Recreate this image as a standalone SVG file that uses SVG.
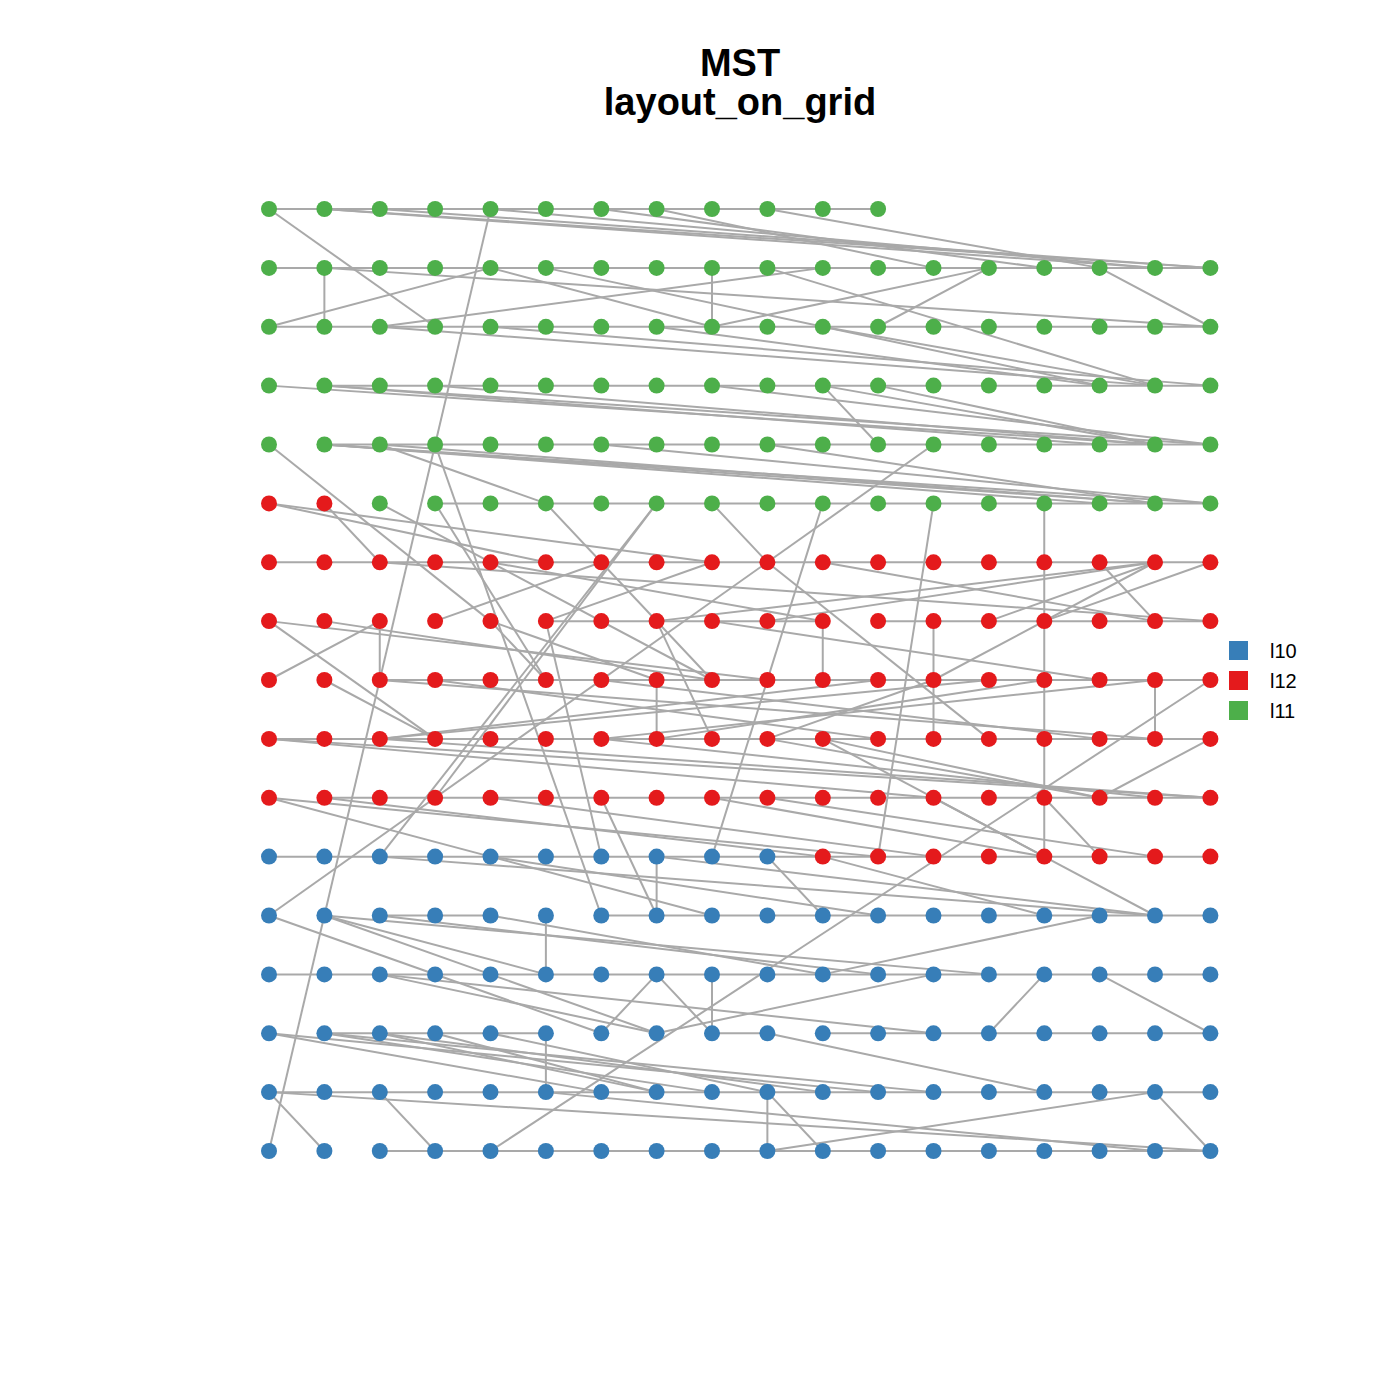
<svg xmlns="http://www.w3.org/2000/svg" width="1400" height="1400" viewBox="0 0 1400 1400">
<style>
.g{fill:#4daf4a}.r{fill:#e41a1c}.b{fill:#377eb8}
#edges line{stroke:#a9a9a9;stroke-width:2;fill:none;vector-effect:non-scaling-stroke}
.t{font-family:"Liberation Sans",Arial,sans-serif;font-weight:bold;font-size:38px;text-anchor:middle;fill:#000}
.lg{font-family:"Liberation Sans",Arial,sans-serif;font-size:20px;fill:#000}
</style>
<rect width="1400" height="1400" fill="#fff"/>
<text class="t" x="740" y="76">MST</text>
<text class="t" x="740" y="115">layout_on_grid</text>
<g id="edges" transform="translate(269,209) scale(55.375,58.875)">
<line x1="0" y1="0" x2="11" y2="0"/><line x1="0" y1="1" x2="17" y2="1"/><line x1="0" y1="2" x2="17" y2="2"/><line x1="1" y1="3" x2="17" y2="3"/><line x1="1" y1="4" x2="17" y2="4"/><line x1="3" y1="5" x2="17" y2="5"/><line x1="0" y1="6" x2="17" y2="6"/><line x1="5" y1="7" x2="10" y2="7"/><line x1="11" y1="7" x2="17" y2="7"/><line x1="2" y1="8" x2="17" y2="8"/><line x1="0" y1="9" x2="17" y2="9"/><line x1="1" y1="10" x2="17" y2="10"/><line x1="0" y1="11" x2="17" y2="11"/><line x1="2" y1="12" x2="4" y2="12"/><line x1="6" y1="12" x2="17" y2="12"/><line x1="0" y1="13" x2="17" y2="13"/><line x1="1" y1="14" x2="5" y2="14"/><line x1="8" y1="14" x2="9" y2="14"/><line x1="10" y1="14" x2="17" y2="14"/><line x1="0" y1="15" x2="17" y2="15"/><line x1="2" y1="16" x2="17" y2="16"/>
<line x1="1" y1="1" x2="1" y2="2"/><line x1="8" y1="1" x2="8" y2="2"/><line x1="2" y1="7" x2="2" y2="8"/><line x1="7" y1="8" x2="7" y2="9"/><line x1="10" y1="7" x2="10" y2="8"/><line x1="12" y1="7" x2="12" y2="9"/><line x1="14" y1="5" x2="14" y2="11"/><line x1="16" y1="8" x2="16" y2="9"/><line x1="7" y1="11" x2="7" y2="12"/><line x1="5" y1="12" x2="5" y2="13"/><line x1="5" y1="14" x2="5" y2="15"/><line x1="8" y1="13" x2="8" y2="14"/><line x1="9" y1="15" x2="9" y2="16"/>
<line x1="0" y1="0" x2="3" y2="2"/><line x1="4" y1="0" x2="0" y2="16"/><line x1="1" y1="0" x2="17" y2="1"/><line x1="1" y1="0" x2="16" y2="1"/><line x1="2" y1="0" x2="17" y2="1"/><line x1="4" y1="0" x2="16" y2="1"/><line x1="6" y1="0" x2="14" y2="1"/><line x1="7" y1="0" x2="12" y2="1"/><line x1="9" y1="0" x2="15" y2="1"/>
<line x1="0" y1="2" x2="4" y2="1"/><line x1="1" y1="1" x2="17" y2="2"/><line x1="4" y1="1" x2="8" y2="2"/><line x1="5" y1="1" x2="15" y2="3"/><line x1="9" y1="1" x2="16" y2="3"/><line x1="2" y1="2" x2="10" y2="1"/><line x1="8" y1="2" x2="13" y2="1"/><line x1="11" y1="2" x2="13" y2="1"/><line x1="15" y1="1" x2="17" y2="2"/>
<line x1="2" y1="2" x2="16" y2="3"/><line x1="4" y1="2" x2="17" y2="3"/><line x1="7" y1="2" x2="15" y2="3"/><line x1="10" y1="2" x2="16" y2="3"/>
<line x1="0" y1="3" x2="16" y2="4"/><line x1="1" y1="3" x2="17" y2="4"/><line x1="1" y1="3" x2="15" y2="4"/><line x1="3" y1="3" x2="16" y2="4"/><line x1="8" y1="3" x2="17" y2="4"/><line x1="10" y1="3" x2="11" y2="4"/><line x1="10" y1="3" x2="16" y2="4"/><line x1="11" y1="3" x2="16" y2="4"/>
<line x1="1" y1="4" x2="16" y2="5"/><line x1="1" y1="4" x2="17" y2="5"/><line x1="1" y1="4" x2="15" y2="5"/><line x1="2" y1="4" x2="5" y2="5"/><line x1="2" y1="4" x2="16" y2="5"/><line x1="6" y1="4" x2="17" y2="5"/><line x1="9" y1="4" x2="16" y2="5"/>
<line x1="12" y1="4" x2="9" y2="6"/><line x1="12" y1="5" x2="11" y2="11"/><line x1="10" y1="5" x2="8" y2="11"/><line x1="8" y1="5" x2="9" y2="6"/><line x1="9" y1="6" x2="13" y2="9"/><line x1="7" y1="5" x2="2" y2="11"/><line x1="7" y1="5" x2="3" y2="10"/><line x1="3" y1="4" x2="6" y2="12"/><line x1="3" y1="5" x2="5" y2="8"/><line x1="0" y1="4" x2="4" y2="7"/><line x1="4" y1="7" x2="5" y2="8"/><line x1="0" y1="12" x2="9" y2="6"/><line x1="5" y1="7" x2="6" y2="11"/><line x1="3" y1="7" x2="6" y2="6"/><line x1="0" y1="8" x2="2" y2="7"/><line x1="1" y1="8" x2="3" y2="9"/><line x1="0" y1="7" x2="3" y2="9"/><line x1="1" y1="5" x2="2" y2="6"/><line x1="2" y1="5" x2="8" y2="8"/><line x1="5" y1="5" x2="8" y2="8"/><line x1="0" y1="5" x2="5" y2="6"/><line x1="0" y1="5" x2="8" y2="6"/><line x1="0" y1="7" x2="9" y2="8"/><line x1="1" y1="7" x2="8" y2="8"/><line x1="5" y1="7" x2="8" y2="6"/><line x1="7" y1="7" x2="8" y2="9"/><line x1="8" y1="7" x2="15" y2="8"/><line x1="7" y1="7" x2="16" y2="6"/><line x1="9" y1="7" x2="16" y2="6"/><line x1="13" y1="7" x2="16" y2="6"/><line x1="15" y1="6" x2="16" y2="7"/><line x1="14" y1="7" x2="17" y2="6"/><line x1="12" y1="8" x2="16" y2="6"/><line x1="10" y1="6" x2="16" y2="7"/>
<line x1="9" y1="9" x2="12" y2="8"/><line x1="7" y1="9" x2="14" y2="8"/><line x1="6" y1="9" x2="16" y2="8"/><line x1="6" y1="8" x2="15" y2="9"/><line x1="2" y1="9" x2="11" y2="8"/><line x1="2" y1="9" x2="13" y2="8"/><line x1="2" y1="9" x2="17" y2="10"/><line x1="0" y1="9" x2="12" y2="10"/><line x1="0" y1="9" x2="17" y2="10"/><line x1="3" y1="8" x2="11" y2="9"/><line x1="2" y1="8" x2="16" y2="9"/><line x1="4" y1="6" x2="10" y2="7"/><line x1="4" y1="7" x2="7" y2="8"/><line x1="2" y1="6" x2="17" y2="7"/>
<line x1="0" y1="10" x2="4" y2="11"/><line x1="0" y1="10" x2="11" y2="11"/><line x1="1" y1="10" x2="10" y2="11"/><line x1="10" y1="9" x2="15" y2="10"/><line x1="9" y1="9" x2="15" y2="10"/><line x1="6" y1="9" x2="16" y2="10"/><line x1="10" y1="9" x2="14" y2="11"/><line x1="4" y1="10" x2="12" y2="11"/><line x1="9" y1="10" x2="16" y2="11"/><line x1="8" y1="10" x2="14" y2="11"/><line x1="6" y1="10" x2="7" y2="12"/>
<line x1="2" y1="11" x2="16" y2="12"/><line x1="4" y1="11" x2="8" y2="12"/><line x1="4" y1="11" x2="11" y2="12"/><line x1="7" y1="11" x2="16" y2="12"/><line x1="9" y1="11" x2="10" y2="12"/><line x1="10" y1="11" x2="14" y2="12"/><line x1="12" y1="10" x2="14" y2="11"/><line x1="14" y1="10" x2="15" y2="11"/><line x1="14" y1="11" x2="16" y2="12"/><line x1="15" y1="10" x2="17" y2="9"/><line x1="4" y1="16" x2="17" y2="8"/>
<line x1="0" y1="12" x2="6" y2="14"/><line x1="1" y1="12" x2="4" y2="13"/><line x1="1" y1="12" x2="5" y2="13"/><line x1="1" y1="12" x2="13" y2="13"/><line x1="2" y1="12" x2="11" y2="13"/><line x1="4" y1="12" x2="10" y2="13"/><line x1="6" y1="14" x2="7" y2="13"/><line x1="7" y1="13" x2="8" y2="14"/><line x1="10" y1="13" x2="15" y2="12"/><line x1="7" y1="14" x2="12" y2="13"/><line x1="2" y1="13" x2="12" y2="14"/><line x1="2" y1="13" x2="7" y2="14"/><line x1="4" y1="13" x2="7" y2="14"/>
<line x1="9" y1="14" x2="14" y2="15"/><line x1="0" y1="14" x2="6" y2="15"/><line x1="0" y1="14" x2="11" y2="15"/><line x1="1" y1="14" x2="8" y2="15"/><line x1="1" y1="14" x2="12" y2="15"/><line x1="2" y1="14" x2="10" y2="15"/><line x1="2" y1="14" x2="7" y2="15"/><line x1="3" y1="14" x2="7" y2="15"/><line x1="4" y1="14" x2="9" y2="15"/>
<line x1="9" y1="15" x2="10" y2="16"/><line x1="9" y1="16" x2="16" y2="15"/><line x1="13" y1="14" x2="14" y2="13"/><line x1="15" y1="13" x2="17" y2="14"/><line x1="16" y1="15" x2="17" y2="16"/><line x1="0" y1="15" x2="1" y2="16"/><line x1="0" y1="15" x2="17" y2="16"/><line x1="5" y1="15" x2="16" y2="16"/><line x1="2" y1="15" x2="3" y2="16"/>
</g>
<g id="nodes">
<g id="n0_0"><circle class="g" cx="269" cy="209" r="8"/></g><g id="n0_1"><circle class="g" cx="324.4" cy="209" r="8"/></g><g id="n0_2"><circle class="g" cx="379.8" cy="209" r="8"/></g><g id="n0_3"><circle class="g" cx="435.1" cy="209" r="8"/></g><g id="n0_4"><circle class="g" cx="490.5" cy="209" r="8"/></g><g id="n0_5"><circle class="g" cx="545.9" cy="209" r="8"/></g><g id="n0_6"><circle class="g" cx="601.3" cy="209" r="8"/></g><g id="n0_7"><circle class="g" cx="656.6" cy="209" r="8"/></g><g id="n0_8"><circle class="g" cx="712" cy="209" r="8"/></g><g id="n0_9"><circle class="g" cx="767.4" cy="209" r="8"/></g><g id="n0_10"><circle class="g" cx="822.8" cy="209" r="8"/></g><g id="n0_11"><circle class="g" cx="878.1" cy="209" r="8"/></g>
<g id="n1_0"><circle class="g" cx="269" cy="267.9" r="8"/></g><g id="n1_1"><circle class="g" cx="324.4" cy="267.9" r="8"/></g><g id="n1_2"><circle class="g" cx="379.8" cy="267.9" r="8"/></g><g id="n1_3"><circle class="g" cx="435.1" cy="267.9" r="8"/></g><g id="n1_4"><circle class="g" cx="490.5" cy="267.9" r="8"/></g><g id="n1_5"><circle class="g" cx="545.9" cy="267.9" r="8"/></g><g id="n1_6"><circle class="g" cx="601.3" cy="267.9" r="8"/></g><g id="n1_7"><circle class="g" cx="656.6" cy="267.9" r="8"/></g><g id="n1_8"><circle class="g" cx="712" cy="267.9" r="8"/></g><g id="n1_9"><circle class="g" cx="767.4" cy="267.9" r="8"/></g><g id="n1_10"><circle class="g" cx="822.8" cy="267.9" r="8"/></g><g id="n1_11"><circle class="g" cx="878.1" cy="267.9" r="8"/></g><g id="n1_12"><circle class="g" cx="933.5" cy="267.9" r="8"/></g><g id="n1_13"><circle class="g" cx="988.9" cy="267.9" r="8"/></g><g id="n1_14"><circle class="g" cx="1044.3" cy="267.9" r="8"/></g><g id="n1_15"><circle class="g" cx="1099.6" cy="267.9" r="8"/></g><g id="n1_16"><circle class="g" cx="1155" cy="267.9" r="8"/></g><g id="n1_17"><circle class="g" cx="1210.4" cy="267.9" r="8"/></g>
<g id="n2_0"><circle class="g" cx="269" cy="326.8" r="8"/></g><g id="n2_1"><circle class="g" cx="324.4" cy="326.8" r="8"/></g><g id="n2_2"><circle class="g" cx="379.8" cy="326.8" r="8"/></g><g id="n2_3"><circle class="g" cx="435.1" cy="326.8" r="8"/></g><g id="n2_4"><circle class="g" cx="490.5" cy="326.8" r="8"/></g><g id="n2_5"><circle class="g" cx="545.9" cy="326.8" r="8"/></g><g id="n2_6"><circle class="g" cx="601.3" cy="326.8" r="8"/></g><g id="n2_7"><circle class="g" cx="656.6" cy="326.8" r="8"/></g><g id="n2_8"><circle class="g" cx="712" cy="326.8" r="8"/></g><g id="n2_9"><circle class="g" cx="767.4" cy="326.8" r="8"/></g><g id="n2_10"><circle class="g" cx="822.8" cy="326.8" r="8"/></g><g id="n2_11"><circle class="g" cx="878.1" cy="326.8" r="8"/></g><g id="n2_12"><circle class="g" cx="933.5" cy="326.8" r="8"/></g><g id="n2_13"><circle class="g" cx="988.9" cy="326.8" r="8"/></g><g id="n2_14"><circle class="g" cx="1044.3" cy="326.8" r="8"/></g><g id="n2_15"><circle class="g" cx="1099.6" cy="326.8" r="8"/></g><g id="n2_16"><circle class="g" cx="1155" cy="326.8" r="8"/></g><g id="n2_17"><circle class="g" cx="1210.4" cy="326.8" r="8"/></g>
<g id="n3_0"><circle class="g" cx="269" cy="385.6" r="8"/></g><g id="n3_1"><circle class="g" cx="324.4" cy="385.6" r="8"/></g><g id="n3_2"><circle class="g" cx="379.8" cy="385.6" r="8"/></g><g id="n3_3"><circle class="g" cx="435.1" cy="385.6" r="8"/></g><g id="n3_4"><circle class="g" cx="490.5" cy="385.6" r="8"/></g><g id="n3_5"><circle class="g" cx="545.9" cy="385.6" r="8"/></g><g id="n3_6"><circle class="g" cx="601.3" cy="385.6" r="8"/></g><g id="n3_7"><circle class="g" cx="656.6" cy="385.6" r="8"/></g><g id="n3_8"><circle class="g" cx="712" cy="385.6" r="8"/></g><g id="n3_9"><circle class="g" cx="767.4" cy="385.6" r="8"/></g><g id="n3_10"><circle class="g" cx="822.8" cy="385.6" r="8"/></g><g id="n3_11"><circle class="g" cx="878.1" cy="385.6" r="8"/></g><g id="n3_12"><circle class="g" cx="933.5" cy="385.6" r="8"/></g><g id="n3_13"><circle class="g" cx="988.9" cy="385.6" r="8"/></g><g id="n3_14"><circle class="g" cx="1044.3" cy="385.6" r="8"/></g><g id="n3_15"><circle class="g" cx="1099.6" cy="385.6" r="8"/></g><g id="n3_16"><circle class="g" cx="1155" cy="385.6" r="8"/></g><g id="n3_17"><circle class="g" cx="1210.4" cy="385.6" r="8"/></g>
<g id="n4_0"><circle class="g" cx="269" cy="444.5" r="8"/></g><g id="n4_1"><circle class="g" cx="324.4" cy="444.5" r="8"/></g><g id="n4_2"><circle class="g" cx="379.8" cy="444.5" r="8"/></g><g id="n4_3"><circle class="g" cx="435.1" cy="444.5" r="8"/></g><g id="n4_4"><circle class="g" cx="490.5" cy="444.5" r="8"/></g><g id="n4_5"><circle class="g" cx="545.9" cy="444.5" r="8"/></g><g id="n4_6"><circle class="g" cx="601.3" cy="444.5" r="8"/></g><g id="n4_7"><circle class="g" cx="656.6" cy="444.5" r="8"/></g><g id="n4_8"><circle class="g" cx="712" cy="444.5" r="8"/></g><g id="n4_9"><circle class="g" cx="767.4" cy="444.5" r="8"/></g><g id="n4_10"><circle class="g" cx="822.8" cy="444.5" r="8"/></g><g id="n4_11"><circle class="g" cx="878.1" cy="444.5" r="8"/></g><g id="n4_12"><circle class="g" cx="933.5" cy="444.5" r="8"/></g><g id="n4_13"><circle class="g" cx="988.9" cy="444.5" r="8"/></g><g id="n4_14"><circle class="g" cx="1044.3" cy="444.5" r="8"/></g><g id="n4_15"><circle class="g" cx="1099.6" cy="444.5" r="8"/></g><g id="n4_16"><circle class="g" cx="1155" cy="444.5" r="8"/></g><g id="n4_17"><circle class="g" cx="1210.4" cy="444.5" r="8"/></g>
<g id="n5_0"><circle class="r" cx="269" cy="503.4" r="8"/></g><g id="n5_1"><circle class="r" cx="324.4" cy="503.4" r="8"/></g><g id="n5_2"><circle class="g" cx="379.8" cy="503.4" r="8"/></g><g id="n5_3"><circle class="g" cx="435.1" cy="503.4" r="8"/></g><g id="n5_4"><circle class="g" cx="490.5" cy="503.4" r="8"/></g><g id="n5_5"><circle class="g" cx="545.9" cy="503.4" r="8"/></g><g id="n5_6"><circle class="g" cx="601.3" cy="503.4" r="8"/></g><g id="n5_7"><circle class="g" cx="656.6" cy="503.4" r="8"/></g><g id="n5_8"><circle class="g" cx="712" cy="503.4" r="8"/></g><g id="n5_9"><circle class="g" cx="767.4" cy="503.4" r="8"/></g><g id="n5_10"><circle class="g" cx="822.8" cy="503.4" r="8"/></g><g id="n5_11"><circle class="g" cx="878.1" cy="503.4" r="8"/></g><g id="n5_12"><circle class="g" cx="933.5" cy="503.4" r="8"/></g><g id="n5_13"><circle class="g" cx="988.9" cy="503.4" r="8"/></g><g id="n5_14"><circle class="g" cx="1044.3" cy="503.4" r="8"/></g><g id="n5_15"><circle class="g" cx="1099.6" cy="503.4" r="8"/></g><g id="n5_16"><circle class="g" cx="1155" cy="503.4" r="8"/></g><g id="n5_17"><circle class="g" cx="1210.4" cy="503.4" r="8"/></g>
<g id="n6_0"><circle class="r" cx="269" cy="562.3" r="8"/></g><g id="n6_1"><circle class="r" cx="324.4" cy="562.3" r="8"/></g><g id="n6_2"><circle class="r" cx="379.8" cy="562.3" r="8"/></g><g id="n6_3"><circle class="r" cx="435.1" cy="562.3" r="8"/></g><g id="n6_4"><circle class="r" cx="490.5" cy="562.3" r="8"/></g><g id="n6_5"><circle class="r" cx="545.9" cy="562.3" r="8"/></g><g id="n6_6"><circle class="r" cx="601.3" cy="562.3" r="8"/></g><g id="n6_7"><circle class="r" cx="656.6" cy="562.3" r="8"/></g><g id="n6_8"><circle class="r" cx="712" cy="562.3" r="8"/></g><g id="n6_9"><circle class="r" cx="767.4" cy="562.3" r="8"/></g><g id="n6_10"><circle class="r" cx="822.8" cy="562.3" r="8"/></g><g id="n6_11"><circle class="r" cx="878.1" cy="562.3" r="8"/></g><g id="n6_12"><circle class="r" cx="933.5" cy="562.3" r="8"/></g><g id="n6_13"><circle class="r" cx="988.9" cy="562.3" r="8"/></g><g id="n6_14"><circle class="r" cx="1044.3" cy="562.3" r="8"/></g><g id="n6_15"><circle class="r" cx="1099.6" cy="562.3" r="8"/></g><g id="n6_16"><circle class="r" cx="1155" cy="562.3" r="8"/></g><g id="n6_17"><circle class="r" cx="1210.4" cy="562.3" r="8"/></g>
<g id="n7_0"><circle class="r" cx="269" cy="621.1" r="8"/></g><g id="n7_1"><circle class="r" cx="324.4" cy="621.1" r="8"/></g><g id="n7_2"><circle class="r" cx="379.8" cy="621.1" r="8"/></g><g id="n7_3"><circle class="r" cx="435.1" cy="621.1" r="8"/></g><g id="n7_4"><circle class="r" cx="490.5" cy="621.1" r="8"/></g><g id="n7_5"><circle class="r" cx="545.9" cy="621.1" r="8"/></g><g id="n7_6"><circle class="r" cx="601.3" cy="621.1" r="8"/></g><g id="n7_7"><circle class="r" cx="656.6" cy="621.1" r="8"/></g><g id="n7_8"><circle class="r" cx="712" cy="621.1" r="8"/></g><g id="n7_9"><circle class="r" cx="767.4" cy="621.1" r="8"/></g><g id="n7_10"><circle class="r" cx="822.8" cy="621.1" r="8"/></g><g id="n7_11"><circle class="r" cx="878.1" cy="621.1" r="8"/></g><g id="n7_12"><circle class="r" cx="933.5" cy="621.1" r="8"/></g><g id="n7_13"><circle class="r" cx="988.9" cy="621.1" r="8"/></g><g id="n7_14"><circle class="r" cx="1044.3" cy="621.1" r="8"/></g><g id="n7_15"><circle class="r" cx="1099.6" cy="621.1" r="8"/></g><g id="n7_16"><circle class="r" cx="1155" cy="621.1" r="8"/></g><g id="n7_17"><circle class="r" cx="1210.4" cy="621.1" r="8"/></g>
<g id="n8_0"><circle class="r" cx="269" cy="680" r="8"/></g><g id="n8_1"><circle class="r" cx="324.4" cy="680" r="8"/></g><g id="n8_2"><circle class="r" cx="379.8" cy="680" r="8"/></g><g id="n8_3"><circle class="r" cx="435.1" cy="680" r="8"/></g><g id="n8_4"><circle class="r" cx="490.5" cy="680" r="8"/></g><g id="n8_5"><circle class="r" cx="545.9" cy="680" r="8"/></g><g id="n8_6"><circle class="r" cx="601.3" cy="680" r="8"/></g><g id="n8_7"><circle class="r" cx="656.6" cy="680" r="8"/></g><g id="n8_8"><circle class="r" cx="712" cy="680" r="8"/></g><g id="n8_9"><circle class="r" cx="767.4" cy="680" r="8"/></g><g id="n8_10"><circle class="r" cx="822.8" cy="680" r="8"/></g><g id="n8_11"><circle class="r" cx="878.1" cy="680" r="8"/></g><g id="n8_12"><circle class="r" cx="933.5" cy="680" r="8"/></g><g id="n8_13"><circle class="r" cx="988.9" cy="680" r="8"/></g><g id="n8_14"><circle class="r" cx="1044.3" cy="680" r="8"/></g><g id="n8_15"><circle class="r" cx="1099.6" cy="680" r="8"/></g><g id="n8_16"><circle class="r" cx="1155" cy="680" r="8"/></g><g id="n8_17"><circle class="r" cx="1210.4" cy="680" r="8"/></g>
<g id="n9_0"><circle class="r" cx="269" cy="738.9" r="8"/></g><g id="n9_1"><circle class="r" cx="324.4" cy="738.9" r="8"/></g><g id="n9_2"><circle class="r" cx="379.8" cy="738.9" r="8"/></g><g id="n9_3"><circle class="r" cx="435.1" cy="738.9" r="8"/></g><g id="n9_4"><circle class="r" cx="490.5" cy="738.9" r="8"/></g><g id="n9_5"><circle class="r" cx="545.9" cy="738.9" r="8"/></g><g id="n9_6"><circle class="r" cx="601.3" cy="738.9" r="8"/></g><g id="n9_7"><circle class="r" cx="656.6" cy="738.9" r="8"/></g><g id="n9_8"><circle class="r" cx="712" cy="738.9" r="8"/></g><g id="n9_9"><circle class="r" cx="767.4" cy="738.9" r="8"/></g><g id="n9_10"><circle class="r" cx="822.8" cy="738.9" r="8"/></g><g id="n9_11"><circle class="r" cx="878.1" cy="738.9" r="8"/></g><g id="n9_12"><circle class="r" cx="933.5" cy="738.9" r="8"/></g><g id="n9_13"><circle class="r" cx="988.9" cy="738.9" r="8"/></g><g id="n9_14"><circle class="r" cx="1044.3" cy="738.9" r="8"/></g><g id="n9_15"><circle class="r" cx="1099.6" cy="738.9" r="8"/></g><g id="n9_16"><circle class="r" cx="1155" cy="738.9" r="8"/></g><g id="n9_17"><circle class="r" cx="1210.4" cy="738.9" r="8"/></g>
<g id="n10_0"><circle class="r" cx="269" cy="797.8" r="8"/></g><g id="n10_1"><circle class="r" cx="324.4" cy="797.8" r="8"/></g><g id="n10_2"><circle class="r" cx="379.8" cy="797.8" r="8"/></g><g id="n10_3"><circle class="r" cx="435.1" cy="797.8" r="8"/></g><g id="n10_4"><circle class="r" cx="490.5" cy="797.8" r="8"/></g><g id="n10_5"><circle class="r" cx="545.9" cy="797.8" r="8"/></g><g id="n10_6"><circle class="r" cx="601.3" cy="797.8" r="8"/></g><g id="n10_7"><circle class="r" cx="656.6" cy="797.8" r="8"/></g><g id="n10_8"><circle class="r" cx="712" cy="797.8" r="8"/></g><g id="n10_9"><circle class="r" cx="767.4" cy="797.8" r="8"/></g><g id="n10_10"><circle class="r" cx="822.8" cy="797.8" r="8"/></g><g id="n10_11"><circle class="r" cx="878.1" cy="797.8" r="8"/></g><g id="n10_12"><circle class="r" cx="933.5" cy="797.8" r="8"/></g><g id="n10_13"><circle class="r" cx="988.9" cy="797.8" r="8"/></g><g id="n10_14"><circle class="r" cx="1044.3" cy="797.8" r="8"/></g><g id="n10_15"><circle class="r" cx="1099.6" cy="797.8" r="8"/></g><g id="n10_16"><circle class="r" cx="1155" cy="797.8" r="8"/></g><g id="n10_17"><circle class="r" cx="1210.4" cy="797.8" r="8"/></g>
<g id="n11_0"><circle class="b" cx="269" cy="856.6" r="8"/></g><g id="n11_1"><circle class="b" cx="324.4" cy="856.6" r="8"/></g><g id="n11_2"><circle class="b" cx="379.8" cy="856.6" r="8"/></g><g id="n11_3"><circle class="b" cx="435.1" cy="856.6" r="8"/></g><g id="n11_4"><circle class="b" cx="490.5" cy="856.6" r="8"/></g><g id="n11_5"><circle class="b" cx="545.9" cy="856.6" r="8"/></g><g id="n11_6"><circle class="b" cx="601.3" cy="856.6" r="8"/></g><g id="n11_7"><circle class="b" cx="656.6" cy="856.6" r="8"/></g><g id="n11_8"><circle class="b" cx="712" cy="856.6" r="8"/></g><g id="n11_9"><circle class="b" cx="767.4" cy="856.6" r="8"/></g><g id="n11_10"><circle class="r" cx="822.8" cy="856.6" r="8"/></g><g id="n11_11"><circle class="r" cx="878.1" cy="856.6" r="8"/></g><g id="n11_12"><circle class="r" cx="933.5" cy="856.6" r="8"/></g><g id="n11_13"><circle class="r" cx="988.9" cy="856.6" r="8"/></g><g id="n11_14"><circle class="r" cx="1044.3" cy="856.6" r="8"/></g><g id="n11_15"><circle class="r" cx="1099.6" cy="856.6" r="8"/></g><g id="n11_16"><circle class="r" cx="1155" cy="856.6" r="8"/></g><g id="n11_17"><circle class="r" cx="1210.4" cy="856.6" r="8"/></g>
<g id="n12_0"><circle class="b" cx="269" cy="915.5" r="8"/></g><g id="n12_1"><circle class="b" cx="324.4" cy="915.5" r="8"/></g><g id="n12_2"><circle class="b" cx="379.8" cy="915.5" r="8"/></g><g id="n12_3"><circle class="b" cx="435.1" cy="915.5" r="8"/></g><g id="n12_4"><circle class="b" cx="490.5" cy="915.5" r="8"/></g><g id="n12_5"><circle class="b" cx="545.9" cy="915.5" r="8"/></g><g id="n12_6"><circle class="b" cx="601.3" cy="915.5" r="8"/></g><g id="n12_7"><circle class="b" cx="656.6" cy="915.5" r="8"/></g><g id="n12_8"><circle class="b" cx="712" cy="915.5" r="8"/></g><g id="n12_9"><circle class="b" cx="767.4" cy="915.5" r="8"/></g><g id="n12_10"><circle class="b" cx="822.8" cy="915.5" r="8"/></g><g id="n12_11"><circle class="b" cx="878.1" cy="915.5" r="8"/></g><g id="n12_12"><circle class="b" cx="933.5" cy="915.5" r="8"/></g><g id="n12_13"><circle class="b" cx="988.9" cy="915.5" r="8"/></g><g id="n12_14"><circle class="b" cx="1044.3" cy="915.5" r="8"/></g><g id="n12_15"><circle class="b" cx="1099.6" cy="915.5" r="8"/></g><g id="n12_16"><circle class="b" cx="1155" cy="915.5" r="8"/></g><g id="n12_17"><circle class="b" cx="1210.4" cy="915.5" r="8"/></g>
<g id="n13_0"><circle class="b" cx="269" cy="974.4" r="8"/></g><g id="n13_1"><circle class="b" cx="324.4" cy="974.4" r="8"/></g><g id="n13_2"><circle class="b" cx="379.8" cy="974.4" r="8"/></g><g id="n13_3"><circle class="b" cx="435.1" cy="974.4" r="8"/></g><g id="n13_4"><circle class="b" cx="490.5" cy="974.4" r="8"/></g><g id="n13_5"><circle class="b" cx="545.9" cy="974.4" r="8"/></g><g id="n13_6"><circle class="b" cx="601.3" cy="974.4" r="8"/></g><g id="n13_7"><circle class="b" cx="656.6" cy="974.4" r="8"/></g><g id="n13_8"><circle class="b" cx="712" cy="974.4" r="8"/></g><g id="n13_9"><circle class="b" cx="767.4" cy="974.4" r="8"/></g><g id="n13_10"><circle class="b" cx="822.8" cy="974.4" r="8"/></g><g id="n13_11"><circle class="b" cx="878.1" cy="974.4" r="8"/></g><g id="n13_12"><circle class="b" cx="933.5" cy="974.4" r="8"/></g><g id="n13_13"><circle class="b" cx="988.9" cy="974.4" r="8"/></g><g id="n13_14"><circle class="b" cx="1044.3" cy="974.4" r="8"/></g><g id="n13_15"><circle class="b" cx="1099.6" cy="974.4" r="8"/></g><g id="n13_16"><circle class="b" cx="1155" cy="974.4" r="8"/></g><g id="n13_17"><circle class="b" cx="1210.4" cy="974.4" r="8"/></g>
<g id="n14_0"><circle class="b" cx="269" cy="1033.3" r="8"/></g><g id="n14_1"><circle class="b" cx="324.4" cy="1033.3" r="8"/></g><g id="n14_2"><circle class="b" cx="379.8" cy="1033.3" r="8"/></g><g id="n14_3"><circle class="b" cx="435.1" cy="1033.3" r="8"/></g><g id="n14_4"><circle class="b" cx="490.5" cy="1033.3" r="8"/></g><g id="n14_5"><circle class="b" cx="545.9" cy="1033.3" r="8"/></g><g id="n14_6"><circle class="b" cx="601.3" cy="1033.3" r="8"/></g><g id="n14_7"><circle class="b" cx="656.6" cy="1033.3" r="8"/></g><g id="n14_8"><circle class="b" cx="712" cy="1033.3" r="8"/></g><g id="n14_9"><circle class="b" cx="767.4" cy="1033.3" r="8"/></g><g id="n14_10"><circle class="b" cx="822.8" cy="1033.3" r="8"/></g><g id="n14_11"><circle class="b" cx="878.1" cy="1033.3" r="8"/></g><g id="n14_12"><circle class="b" cx="933.5" cy="1033.3" r="8"/></g><g id="n14_13"><circle class="b" cx="988.9" cy="1033.3" r="8"/></g><g id="n14_14"><circle class="b" cx="1044.3" cy="1033.3" r="8"/></g><g id="n14_15"><circle class="b" cx="1099.6" cy="1033.3" r="8"/></g><g id="n14_16"><circle class="b" cx="1155" cy="1033.3" r="8"/></g><g id="n14_17"><circle class="b" cx="1210.4" cy="1033.3" r="8"/></g>
<g id="n15_0"><circle class="b" cx="269" cy="1092.1" r="8"/></g><g id="n15_1"><circle class="b" cx="324.4" cy="1092.1" r="8"/></g><g id="n15_2"><circle class="b" cx="379.8" cy="1092.1" r="8"/></g><g id="n15_3"><circle class="b" cx="435.1" cy="1092.1" r="8"/></g><g id="n15_4"><circle class="b" cx="490.5" cy="1092.1" r="8"/></g><g id="n15_5"><circle class="b" cx="545.9" cy="1092.1" r="8"/></g><g id="n15_6"><circle class="b" cx="601.3" cy="1092.1" r="8"/></g><g id="n15_7"><circle class="b" cx="656.6" cy="1092.1" r="8"/></g><g id="n15_8"><circle class="b" cx="712" cy="1092.1" r="8"/></g><g id="n15_9"><circle class="b" cx="767.4" cy="1092.1" r="8"/></g><g id="n15_10"><circle class="b" cx="822.8" cy="1092.1" r="8"/></g><g id="n15_11"><circle class="b" cx="878.1" cy="1092.1" r="8"/></g><g id="n15_12"><circle class="b" cx="933.5" cy="1092.1" r="8"/></g><g id="n15_13"><circle class="b" cx="988.9" cy="1092.1" r="8"/></g><g id="n15_14"><circle class="b" cx="1044.3" cy="1092.1" r="8"/></g><g id="n15_15"><circle class="b" cx="1099.6" cy="1092.1" r="8"/></g><g id="n15_16"><circle class="b" cx="1155" cy="1092.1" r="8"/></g><g id="n15_17"><circle class="b" cx="1210.4" cy="1092.1" r="8"/></g>
<g id="n16_0"><circle class="b" cx="269" cy="1151" r="8"/></g><g id="n16_1"><circle class="b" cx="324.4" cy="1151" r="8"/></g><g id="n16_2"><circle class="b" cx="379.8" cy="1151" r="8"/></g><g id="n16_3"><circle class="b" cx="435.1" cy="1151" r="8"/></g><g id="n16_4"><circle class="b" cx="490.5" cy="1151" r="8"/></g><g id="n16_5"><circle class="b" cx="545.9" cy="1151" r="8"/></g><g id="n16_6"><circle class="b" cx="601.3" cy="1151" r="8"/></g><g id="n16_7"><circle class="b" cx="656.6" cy="1151" r="8"/></g><g id="n16_8"><circle class="b" cx="712" cy="1151" r="8"/></g><g id="n16_9"><circle class="b" cx="767.4" cy="1151" r="8"/></g><g id="n16_10"><circle class="b" cx="822.8" cy="1151" r="8"/></g><g id="n16_11"><circle class="b" cx="878.1" cy="1151" r="8"/></g><g id="n16_12"><circle class="b" cx="933.5" cy="1151" r="8"/></g><g id="n16_13"><circle class="b" cx="988.9" cy="1151" r="8"/></g><g id="n16_14"><circle class="b" cx="1044.3" cy="1151" r="8"/></g><g id="n16_15"><circle class="b" cx="1099.6" cy="1151" r="8"/></g><g id="n16_16"><circle class="b" cx="1155" cy="1151" r="8"/></g><g id="n16_17"><circle class="b" cx="1210.4" cy="1151" r="8"/></g>
</g>
<g id="legend">
<rect class="b" x="1229" y="641" width="19" height="19"/><text class="lg" x="1270" y="658">l10</text>
<rect class="r" x="1229" y="671" width="19" height="19"/><text class="lg" x="1270" y="688">l12</text>
<rect class="g" x="1229" y="701" width="19" height="19"/><text class="lg" x="1270" y="718">l11</text>
</g>
</svg>
